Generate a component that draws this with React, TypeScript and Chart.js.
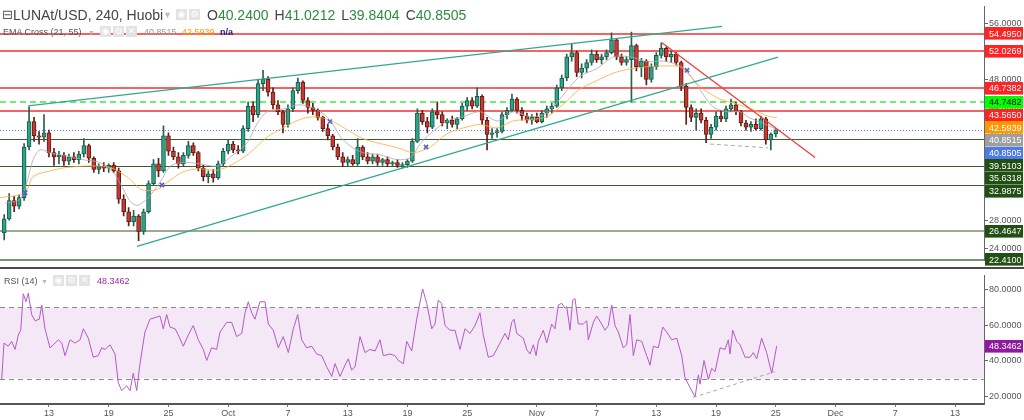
import React, { useEffect, useRef } from "react";
import { Chart, registerables } from "chart.js";
Chart.register(...registerables);

const FONT = '"Liberation Sans", Arial, sans-serif';

// ---- candles (12h, first one Sep 8 12:00; day 0 = Sep 1) ----
const candleStartDay = 7.5;
const candleStepDays = 0.5;
const opens = [26.2,28.2,30.8,30.0,31.2,38.4,42.0,40.0,39.8,40.4,37.6,37.0,37.2,36.4,37.0,36.6,37.4,38.6,36.8,35.2,35.6,35.4,35.8,35.0,31.0,29.2,27.8,28.6,26.4,29.2,33.2,36.0,35.0,40.0,37.8,37.0,36.0,37.2,38.6,37.6,35.4,34.2,34.6,34.0,36.0,37.8,38.8,38.0,37.8,41.0,44.2,43.0,47.4,48.0,46.2,44.4,43.4,41.6,43.8,46.4,47.6,45.0,44.0,43.6,42.6,41.0,40.0,38.4,37.0,36.2,36.6,36.0,38.4,37.0,36.4,37.0,36.2,36.6,36.0,36.2,35.8,35.9,36.4,39.2,43.2,42.0,41.2,43.4,43.0,41.8,42.2,41.6,42.4,44.2,45.0,44.2,45.6,42.2,40.2,40.4,40.6,43.0,43.6,45.2,43.6,42.8,42.2,42.6,42.0,43.2,43.8,44.2,46.8,48.2,51.2,51.8,49.0,49.6,50.4,51.6,50.8,51.2,51.8,53.6,51.2,50.4,50.8,52.8,49.8,50.6,48.0,49.8,51.4,52.4,51.2,51.6,50.4,47.0,44.0,42.6,43.2,42.2,40.2,41.2,42.8,42.4,43.8,44.4,43.4,41.8,41.2,41.6,41.0,42.4,39.4,40.24];
const highs = [28.8,31.8,31.4,31.6,38.9,44.1,42.6,40.6,43.0,40.8,38.2,37.8,37.6,37.4,37.6,37.8,39.6,38.8,37.0,36.0,36.2,36.0,36.2,35.4,31.6,29.8,29.4,28.8,29.6,33.6,36.6,36.8,41.4,40.4,38.4,37.6,37.6,39.2,39.0,37.8,35.8,35.0,35.2,36.4,38.2,39.4,39.2,38.6,41.4,44.8,44.8,48.0,49.3,48.4,46.8,45.0,43.6,44.4,46.8,48.2,47.8,45.4,44.6,43.8,42.8,41.6,40.2,38.8,37.6,37.0,37.2,39.6,38.6,37.6,37.4,37.4,36.8,37.0,36.4,36.6,36.2,36.6,39.6,43.8,43.6,42.6,43.8,44.8,43.4,42.4,42.8,42.6,44.6,45.4,45.4,46.8,45.8,42.6,41.0,41.0,43.4,44.0,45.9,45.4,44.0,43.2,43.0,43.2,43.6,44.2,44.6,47.2,48.6,51.6,53.0,52.0,50.2,50.8,52.2,52.0,51.6,52.2,54.6,53.8,51.6,51.2,54.7,53.0,51.0,50.8,50.2,51.8,53.2,52.6,52.0,51.8,50.6,47.4,44.4,43.8,43.8,42.6,41.6,43.4,43.6,44.2,45.2,44.8,43.6,42.2,42.0,42.4,42.8,42.6,40.4,41.02];
const lows = [25.2,28.0,29.2,29.6,30.8,38.0,39.2,38.8,39.2,37.0,35.8,36.0,35.8,35.9,36.2,36.0,37.0,36.2,34.8,34.6,34.9,34.8,34.8,30.4,28.6,27.2,27.2,25.1,26.0,29.0,33.0,34.2,34.8,37.2,36.6,35.4,35.6,36.8,37.2,35.0,33.6,33.3,33.4,33.8,35.6,37.4,37.6,37.4,37.6,40.6,42.0,42.6,46.4,45.6,43.8,43.0,40.4,41.2,43.4,46.0,44.6,43.2,43.0,42.2,40.6,39.4,38.0,36.6,35.6,35.6,35.8,35.8,36.6,36.0,36.0,35.8,35.8,35.6,35.6,35.5,35.4,35.5,36.2,39.0,41.6,40.4,41.0,42.4,41.4,41.0,41.2,41.0,42.2,43.6,43.8,44.0,41.6,38.0,39.6,39.8,40.4,42.4,43.4,43.2,42.2,41.8,41.6,41.8,41.8,42.6,43.2,44.0,46.4,47.8,50.6,48.4,48.2,49.0,50.0,50.4,50.2,50.8,51.6,50.8,50.0,50.0,44.8,49.2,48.4,47.2,47.6,49.4,51.0,50.6,50.4,50.0,46.4,41.6,42.0,40.8,41.8,39.0,39.6,40.8,42.0,42.0,43.4,43.0,41.4,40.8,40.6,40.8,40.8,38.8,38.0,39.84];
const closes = [28.2,30.8,30.0,31.2,38.4,42.0,40.0,39.8,40.4,37.6,37.0,37.2,36.4,37.0,36.6,37.4,38.6,36.8,35.2,35.6,35.4,35.8,35.0,31.0,29.2,27.8,28.6,26.4,29.2,33.2,36.0,35.0,40.0,37.8,37.0,36.0,37.2,38.6,37.6,35.4,34.2,34.6,34.0,36.0,37.8,38.8,38.0,37.8,41.0,44.2,43.0,47.4,48.0,46.2,44.4,43.4,41.6,43.8,46.4,47.6,45.0,44.0,43.6,42.6,41.0,40.0,38.4,37.0,36.2,36.6,36.0,38.4,37.0,36.4,37.0,36.2,36.6,36.0,36.2,35.8,35.9,36.4,39.2,43.2,42.0,41.2,43.4,43.0,41.8,42.2,41.6,42.4,44.2,45.0,44.2,45.6,42.2,40.2,40.4,40.6,43.0,43.6,45.2,43.6,42.8,42.2,42.6,42.0,43.2,43.8,44.2,46.8,48.2,51.2,51.8,49.0,49.6,50.4,51.6,50.8,51.2,51.8,53.6,51.2,50.4,50.8,52.8,49.8,50.6,48.0,49.8,51.4,52.4,51.2,51.6,50.4,47.0,44.0,42.6,43.2,42.2,40.2,41.2,42.8,42.4,43.8,44.4,43.4,41.8,41.2,41.6,41.0,42.4,39.4,40.24,40.85];

// ---- EMA cross (21, 55) ----
const ema21Days = [7.6,9.1,9.8,10.4,11.1,12.1,13.8,15.4,17.1,18.4,19.4,20.1,20.8,21.4,22.2,23.2,24.2,25.5,27.2,28.9,30.5,31.9,32.9,33.9,35.5,37.2,38.9,40.2,41.2,42.2,43.5,45.2,47.0,48.3,49.3,50.3,52.0,53.6,55.3,57.0,58.6,60.3,62.0,63.6,65.3,67.0,68.7,70.4,72.1,73.7,75.4,76.4,77.7,78.7,80.1,81.4,82.4,83.7,85.1];
const ema21Values = [30.4,31.0,33.5,36.6,38.0,37.6,37.1,36.6,36.2,34.9,32.6,30.8,30.1,30.5,31.6,33.5,35.7,36.2,36.0,35.7,37.3,39.0,41.7,43.4,43.8,44.4,43.7,42.3,40.0,38.6,37.6,37.3,36.6,36.9,38.9,40.3,42.1,42.7,43.4,42.1,43.4,42.7,43.2,45.7,48.4,49.5,51.2,51.2,50.5,50.6,49.9,48.6,45.9,44.1,43.4,43.4,42.5,41.8,40.85];
const ema55Days = [7.1,9.6,10.4,12.1,13.8,16.1,18.1,19.8,21.4,22.9,23.9,25.5,27.2,28.9,30.5,32.2,33.9,35.5,37.2,38.9,40.2,41.2,43.5,47.0,48.6,50.3,52.0,53.6,55.3,57.0,58.6,60.3,62.0,63.6,65.3,67.0,68.7,70.4,72.1,73.7,75.4,76.1,77.7,79.4,81.1,82.7,84.4,85.1];
const ema55Values = [31.2,31.9,34.2,35.0,35.5,35.7,35.5,34.2,32.3,32.4,33.4,34.9,35.3,35.1,36.0,37.6,39.8,41.1,42.3,42.7,42.2,41.5,39.6,38.3,37.6,38.4,40.3,41.1,41.6,41.1,42.1,42.3,42.7,44.4,46.6,47.8,48.9,49.5,49.8,49.9,49.8,48.9,46.6,45.2,44.5,43.7,42.7,42.59];
const crossDays = [9.6,23.35,40.22,49.87,76.08];
const crossValues = [31.9,33.0,42.0,38.4,49.3];

// ---- drawn trend lines ----
const upperChannelDays = [9.89,79.6];
const upperChannelPrices = [44.25,55.51];
const lowerChannelDays = [20.84,85.22];
const lowerChannelPrices = [24.3,51.17];
const downTrendDays = [73.57,88.94];
const downTrendPrices = [53.2,36.92];
const supportDashDays = [78.39,84.22];
const supportDashPrices = [38.82,38.27];
const rsiDashDays = [76.69,84.92];
const rsiDashValues = [19.4,33.9];

// ---- RSI (14) ----
const rsiDays = [7.25,7.48,7.91,8.25,8.59,8.92,9.16,9.42,9.69,9.92,10.26,10.6,11.03,11.27,11.6,12.1,12.43,12.94,13.28,13.61,14.11,14.61,15.12,15.45,15.95,16.45,16.95,17.29,17.63,18.13,18.63,18.96,19.3,19.81,20.14,20.47,20.81,21.14,21.64,22.15,22.65,23.15,23.48,23.82,24.15,24.66,24.99,25.49,25.99,26.49,27.0,27.5,27.84,28.34,28.84,29.18,29.85,30.35,30.85,31.36,31.69,32.02,32.36,32.69,33.19,33.7,34.03,34.53,35.03,35.53,36.04,36.54,36.98,37.38,37.88,38.39,38.89,39.39,39.89,40.4,40.73,41.23,41.73,42.06,42.4,42.74,43.24,43.74,44.24,44.75,45.25,45.58,46.25,46.75,47.08,47.59,47.93,48.43,48.93,49.53,49.94,50.44,50.77,51.1,51.44,51.78,52.28,52.78,53.28,53.78,54.29,54.79,55.29,55.62,56.12,56.63,57.3,57.8,58.13,58.47,58.71,58.98,59.64,59.98,60.31,60.65,60.92,61.15,61.65,61.99,62.49,62.82,63.16,63.5,63.83,64.0,64.33,64.6,64.83,65.17,65.67,66.01,66.17,66.67,67.01,67.51,67.85,68.18,68.52,68.85,69.18,69.68,70.02,70.36,70.69,71.03,71.53,72.03,72.37,72.7,73.2,73.64,74.04,74.55,75.05,75.55,75.88,76.38,76.89,77.22,77.39,77.79,78.22,78.56,78.9,79.4,79.9,80.23,80.4,80.67,81.08,81.41,81.91,82.41,82.74,83.08,83.58,84.08,84.59,85.09];
const rsiValues = [29.5,50,48.2,50.9,46.4,54.5,57.2,77.7,73.2,78,66,62.5,63.4,71.4,58,47.3,49,51.8,50,42.9,51.8,50,51.8,58,52.7,42,42.9,47.3,46.4,49,43.8,27.7,23.2,25.9,23.2,33,23.2,38.4,56.2,63.4,64.3,65.2,58,66,59,58,54.5,48.2,54.5,59.8,51.8,46.4,40.2,47.3,46.4,56.2,61.6,61.6,53.6,55.4,67,73.2,67,63.4,73.2,73.2,60.7,57.2,47.3,53.6,44.6,58,66,51.8,47.3,48.2,43.8,42.9,36.6,31.2,38.4,31.2,37.5,41.1,34.8,36.6,53.6,44.6,46.4,45.5,51.8,42.9,43.8,42.9,40.2,38.4,50.9,45.5,63.4,80.4,72.3,58,60.7,74.1,72.3,59.8,57.2,57.2,46.4,58,55.4,59.8,67,54.5,42,42.9,50,55.4,51.8,61.6,63.4,55.4,52.7,46.4,43.8,49,42.9,50.9,57.2,50,60.7,58,71.4,72.3,69.6,70.5,57.2,74.1,75,60.7,60.7,62.5,51.8,61.6,65.2,60.7,57.2,59.8,71.4,59.8,56.2,47.3,49,66,42.9,51.8,50.9,42.9,37.5,48.2,47.3,59,56.2,51.8,52.7,42.9,30.4,25,19.6,32.1,26.8,40.2,29.5,35.7,33.9,47.3,46.4,51.8,43.8,57.2,50.9,49,42,42,44.6,41.1,52.7,44.6,33,48.35];
const rsiUpper = 70;
const rsiLower = 30;
const rsiLast = 48.3462;

// ---- horizontal levels ----
const levelValues = [54.495,52.0269,46.7382,44.7482,43.565,40.8505,39.5103,35.6318,32.9875,26.4647,22.41];
const levelColors = ["#f23030","#f23030","#f23030","#3fe83f","#f23030","#5c7cfa","#3e5a32","#3e5a32","#3e5a32","#9aab90","#7d9272"];
const levelWidths = [1.5,1.5,1.5,1.5,1.5,1,1,1,1,2,2];
const levelDashes = [[],[],[],[6,4],[],[1,2],[],[],[],[],[]];

// ---- right-axis price labels ----
const priceLabelValues = [54.495,52.0269,46.7382,44.7482,43.565,42.5939,40.8515,40.8505,39.5103,35.6318,32.9875,26.4647,22.41];
const priceLabelBg = ["#ff2323","#ff2323","#ff2323","#00ff00","#ff2323","#ff9800","#9e9e9e","#4c7be8","#214f14","#214f14","#214f14","#214f14","#214f14"];
const priceLabelFg = ["#fff","#fff","#fff","#000","#fff","#fff","#fff","#fff","#fff","#fff","#fff","#fff","#fff"];

// ---- axes ----
const xMinDay = 7.08;
const xMaxDay = 105.91;
const xTickDays = [12,18,24,30,36,42,48,54,61,67,73,79,85,91,97,103];
const xTickLabels = ["13","19","25","Oct","7","13","19","25","Nov","7","13","19","25","Dec","7","13"];
const priceMin = 22.27;
const priceMax = 58.36;
const priceTicks = [24,28,32,36,40,44,48,52,56];
const rsiMin = 15.69;
const rsiMax = 88.04;
const rsiTicks = [20,40,60,80];

const AXIS_W = 40;

const mainDecor = {
  id: "mainDecor",
  beforeDatasetsDraw(chart: any) {
    const { ctx, chartArea, scales } = chart;
    const y = scales.y;
    ctx.save();
    levelValues.forEach((v, i) => {
      const py = Math.round(y.getPixelForValue(v)) + (levelWidths[i] % 2 === 1 ? 0.5 : 0);
      ctx.strokeStyle = levelColors[i];
      ctx.lineWidth = levelWidths[i];
      ctx.setLineDash(levelDashes[i]);
      ctx.beginPath();
      ctx.moveTo(chartArea.left, py);
      ctx.lineTo(chartArea.right, py);
      ctx.stroke();
    });
    ctx.restore();
  },
  afterDraw(chart: any) {
    const { ctx, chartArea, scales } = chart;
    const y = scales.y;
    ctx.save();
    ctx.font = "9px " + FONT;
    ctx.textBaseline = "middle";
    ctx.textAlign = "left";
    let prev = -Infinity;
    priceLabelValues.forEach((v, i) => {
      let py = y.getPixelForValue(v);
      if (py < prev + 12.7) py = prev + 12.7;
      prev = py;
      ctx.fillStyle = priceLabelBg[i];
      ctx.fillRect(chartArea.right + 1, Math.round(py - 6.3), 38, 12.6);
      ctx.fillStyle = priceLabelFg[i];
      ctx.fillText(v.toFixed(4), chartArea.right + 5, py + 0.5);
    });
    ctx.restore();
  },
};

const rsiDecor = {
  id: "rsiDecor",
  beforeDatasetsDraw(chart: any) {
    const { ctx, chartArea, scales } = chart;
    const y = scales.y;
    const top = y.getPixelForValue(rsiUpper);
    const bot = y.getPixelForValue(rsiLower);
    ctx.save();
    ctx.fillStyle = "rgba(156, 39, 176, 0.11)";
    ctx.fillRect(chartArea.left, top, chartArea.right - chartArea.left, bot - top);
    ctx.strokeStyle = "#8c8c8c";
    ctx.lineWidth = 1;
    ctx.setLineDash([5, 4]);
    [top, bot].forEach((p) => {
      const py = Math.round(p) + 0.5;
      ctx.beginPath();
      ctx.moveTo(chartArea.left, py);
      ctx.lineTo(chartArea.right, py);
      ctx.stroke();
    });
    ctx.restore();
  },
  afterDraw(chart: any) {
    const { ctx, chartArea, scales } = chart;
    const py = scales.y.getPixelForValue(rsiLast);
    ctx.save();
    ctx.fillStyle = "#8e1a9e";
    ctx.fillRect(chartArea.right + 1, Math.round(py - 6.3), 38, 12.6);
    ctx.fillStyle = "#fff";
    ctx.font = "9px " + FONT;
    ctx.textBaseline = "middle";
    ctx.fillText(rsiLast.toFixed(4), chartArea.right + 5, py + 0.5);
    ctx.restore();
  },
};

const yAxisCommon = (ticksArr: number[]) => ({
  position: "right" as const,
  afterFit: (s: any) => { s.width = AXIS_W; },
  afterBuildTicks: (s: any) => { s.ticks = ticksArr.map((v) => ({ value: v })); },
  grid: { drawOnChartArea: false, drawTicks: true, tickLength: 4, color: "#666" },
  border: { display: true, color: "#666", width: 1 },
  ticks: {
    color: "#555",
    padding: 1,
    font: { size: 9, family: FONT },
    callback: (v: any) => Number(v).toFixed(4),
  },
});

const lineDs = (label: string, xs: number[], ys: number[], color: string, width: number, order: number, dash: number[] = [], tension = 0) => ({
  type: "line" as const,
  label,
  data: xs.map((x, i) => ({ x, y: ys[i] })),
  borderColor: color,
  borderWidth: width,
  borderDash: dash,
  pointRadius: 0,
  tension,
  fill: false,
  order,
});

export default function App() {
  const mainRef = useRef<HTMLCanvasElement>(null);
  const rsiRef = useRef<HTMLCanvasElement>(null);

  useEffect(() => {
    const times = opens.map((_, i) => candleStartDay + i * candleStepDays);
    const up = opens.map((o, i) => closes[i] >= o);

    const main = new Chart(mainRef.current as HTMLCanvasElement, {
      type: "bar",
      data: {
        datasets: [
          {
            type: "bar",
            label: "wicks",
            data: times.map((t, i) => ({ x: t, y: [lows[i], highs[i]] })) as any,
            backgroundColor: up.map((u) => (u ? "#2d5e4b" : "#5e1c14")),
            barThickness: 1,
            grouped: false,
            order: 7,
          } as any,
          {
            type: "bar",
            label: "bodies",
            data: times.map((t, i) => ({ x: t, y: [opens[i], closes[i]] })) as any,
            backgroundColor: up.map((u) => (u ? "#2aa58b" : "#c23a33")),
            borderColor: up.map((u) => (u ? "#1e5744" : "#641b13")),
            borderWidth: 1,
            borderSkipped: false,
            barThickness: 4,
            grouped: false,
            order: 6,
          } as any,
          lineDs("EMA 55", ema55Days, ema55Values, "rgba(255,170,60,0.8)", 1, 5, [], 0.3),
          lineDs("EMA 21", ema21Days, ema21Values, "rgba(170,170,170,0.8)", 1, 4, [], 0.3),
          lineDs("upper", upperChannelDays, upperChannelPrices, "#33a890", 1.3, 3),
          lineDs("lower", lowerChannelDays, lowerChannelPrices, "#33a890", 1.3, 3),
          lineDs("down", downTrendDays, downTrendPrices, "#f23c3c", 1.3, 3),
          lineDs("support", supportDashDays, supportDashPrices, "#aaaaaa", 1, 3, [4, 3]),
          {
            type: "scatter",
            label: "cross",
            data: crossDays.map((x, i) => ({ x, y: crossValues[i] })),
            pointStyle: "crossRot",
            pointRadius: 3,
            borderColor: "#5a5fd0",
            borderWidth: 1.6,
            backgroundColor: "#5a5fd0",
            order: 1,
          } as any,
        ],
      },
      options: {
        responsive: false,
        maintainAspectRatio: false,
        animation: false,
        events: [],
        layout: { autoPadding: false, padding: { top: 0, bottom: 1, left: 0, right: 0 } },
        plugins: { legend: { display: false }, tooltip: { enabled: false } },
        scales: {
          x: { type: "linear", min: xMinDay, max: xMaxDay, display: false, offset: false, grid: { offset: false } } as any,
          y: { ...yAxisCommon(priceTicks), min: priceMin, max: priceMax } as any,
        },
      } as any,
      plugins: [mainDecor],
    });

    const rsi = new Chart(rsiRef.current as HTMLCanvasElement, {
      type: "line",
      data: {
        datasets: [
          lineDs("RSI", rsiDays, rsiValues, "#b35ac6", 1, 2),
          lineDs("rsiDash", rsiDashDays, rsiDashValues, "#aaaaaa", 1, 1, [4, 3]),
        ],
      },
      options: {
        responsive: false,
        maintainAspectRatio: false,
        animation: false,
        events: [],
        layout: { autoPadding: false, padding: { top: 0, bottom: 0, left: 0, right: 0 } },
        plugins: { legend: { display: false }, tooltip: { enabled: false } },
        scales: {
          x: {
            type: "linear",
            min: xMinDay,
            max: xMaxDay,
            offset: false,
            afterFit: (s: any) => { s.height = 16; },
            afterBuildTicks: (s: any) => { s.ticks = xTickDays.map((v) => ({ value: v })); },
            grid: { drawOnChartArea: false, drawTicks: true, tickLength: 3, color: "#777" },
            border: { display: true, color: "#555", width: 2 },
            ticks: {
              autoSkip: false,
              maxRotation: 0,
              padding: 1,
              color: "#555",
              font: { size: 9, family: FONT },
              callback: (v: any) => {
                const i = xTickDays.indexOf(Number(v));
                return i >= 0 ? xTickLabels[i] : "";
              },
            },
          } as any,
          y: { ...yAxisCommon(rsiTicks), min: rsiMin, max: rsiMax } as any,
        },
      } as any,
      plugins: [rsiDecor],
    });

    return () => {
      main.destroy();
      rsi.destroy();
    };
  }, []);

  const icon = (left: number, top: number, glyph: string) => (
    <div
      style={{
        position: "absolute", left, top, width: 11, height: 11, background: "#e3e3e3",
        color: "#fff", fontSize: 9, lineHeight: "11px", textAlign: "center", fontFamily: "DejaVu Sans, sans-serif",
      }}
    >
      {glyph}
    </div>
  );
  const green = "#2e8b3e";
  const ohlc: [string, string][] = [["O", "40.2400"], ["H", "41.0212"], ["L", "39.8404"], ["C", "40.8505"]];

  return (
    <div style={{ position: "fixed", left: 0, top: 0, width: 1024, height: 420, background: "#fff", overflow: "hidden", fontFamily: FONT }}>
      <canvas ref={mainRef} width={1024} height={267} style={{ position: "absolute", left: 0, top: 0, width: 1024, height: 267, display: "block" }} />
      <div style={{ position: "absolute", left: 0, top: 267, width: 1024, height: 2, background: "#4a4a4a" }} />
      <canvas ref={rsiRef} width={1024} height={151} style={{ position: "absolute", left: 0, top: 269, width: 1024, height: 151, display: "block" }} />

      {/* header line 1 */}
      <div style={{ position: "absolute", left: 2, top: 6, fontSize: 13, lineHeight: "18px", color: "#555", fontFamily: "DejaVu Sans, sans-serif" }}>⊟</div>
      <div style={{ position: "absolute", left: 13, top: 6, fontSize: 14, lineHeight: "18px", color: "#444", whiteSpace: "nowrap" }}>LUNAt/USD, 240, Huobi</div>
      <div style={{ position: "absolute", left: 163, top: 7, fontSize: 9, lineHeight: "16px", color: "#bbb" }}>▼</div>
      {icon(176, 9, "◉")}
      {icon(189, 9, "⚙")}
      <div style={{ position: "absolute", left: 207, top: 6, fontSize: 14, lineHeight: "18px", whiteSpace: "nowrap" }}>
        {ohlc.map(([k, v]) => (
          <span key={k} style={{ marginRight: 6 }}>
            <span style={{ color: "#444" }}>{k}</span>
            <span style={{ color: green }}>{v}</span>
          </span>
        ))}
      </div>

      {/* header line 2 */}
      <div style={{ position: "absolute", left: 3, top: 26, fontSize: 9, lineHeight: "12px", color: "#555", whiteSpace: "nowrap" }}>EMA Cross (21, 55)</div>
      <div style={{ position: "absolute", left: 88, top: 27, fontSize: 7, lineHeight: "11px", color: "#bbb" }}>▼</div>
      {icon(100, 26, "◉")}
      {icon(113, 26, "⚙")}
      {icon(126, 26, "✕")}
      <div style={{ position: "absolute", left: 144, top: 26, fontSize: 9, lineHeight: "12px", color: "#9a9a9a" }}>40.8515</div>
      <div style={{ position: "absolute", left: 182, top: 26, fontSize: 9, lineHeight: "12px", color: "#ff9800" }}>42.5939</div>
      <div style={{ position: "absolute", left: 220, top: 26, fontSize: 9, lineHeight: "12px", color: "#1a237e", fontWeight: "bold" }}>n/a</div>

      {/* RSI header */}
      <div style={{ position: "absolute", left: 4, top: 275, fontSize: 9, lineHeight: "12px", color: "#555", whiteSpace: "nowrap" }}>RSI (14)</div>
      <div style={{ position: "absolute", left: 41, top: 276, fontSize: 7, lineHeight: "11px", color: "#bbb" }}>▼</div>
      {icon(53, 275, "◉")}
      {icon(66, 275, "⚙")}
      {icon(79, 275, "✕")}
      <div style={{ position: "absolute", left: 97, top: 275, fontSize: 9, lineHeight: "12px", color: "#9c27b0" }}>48.3462</div>
    </div>
  );
}
